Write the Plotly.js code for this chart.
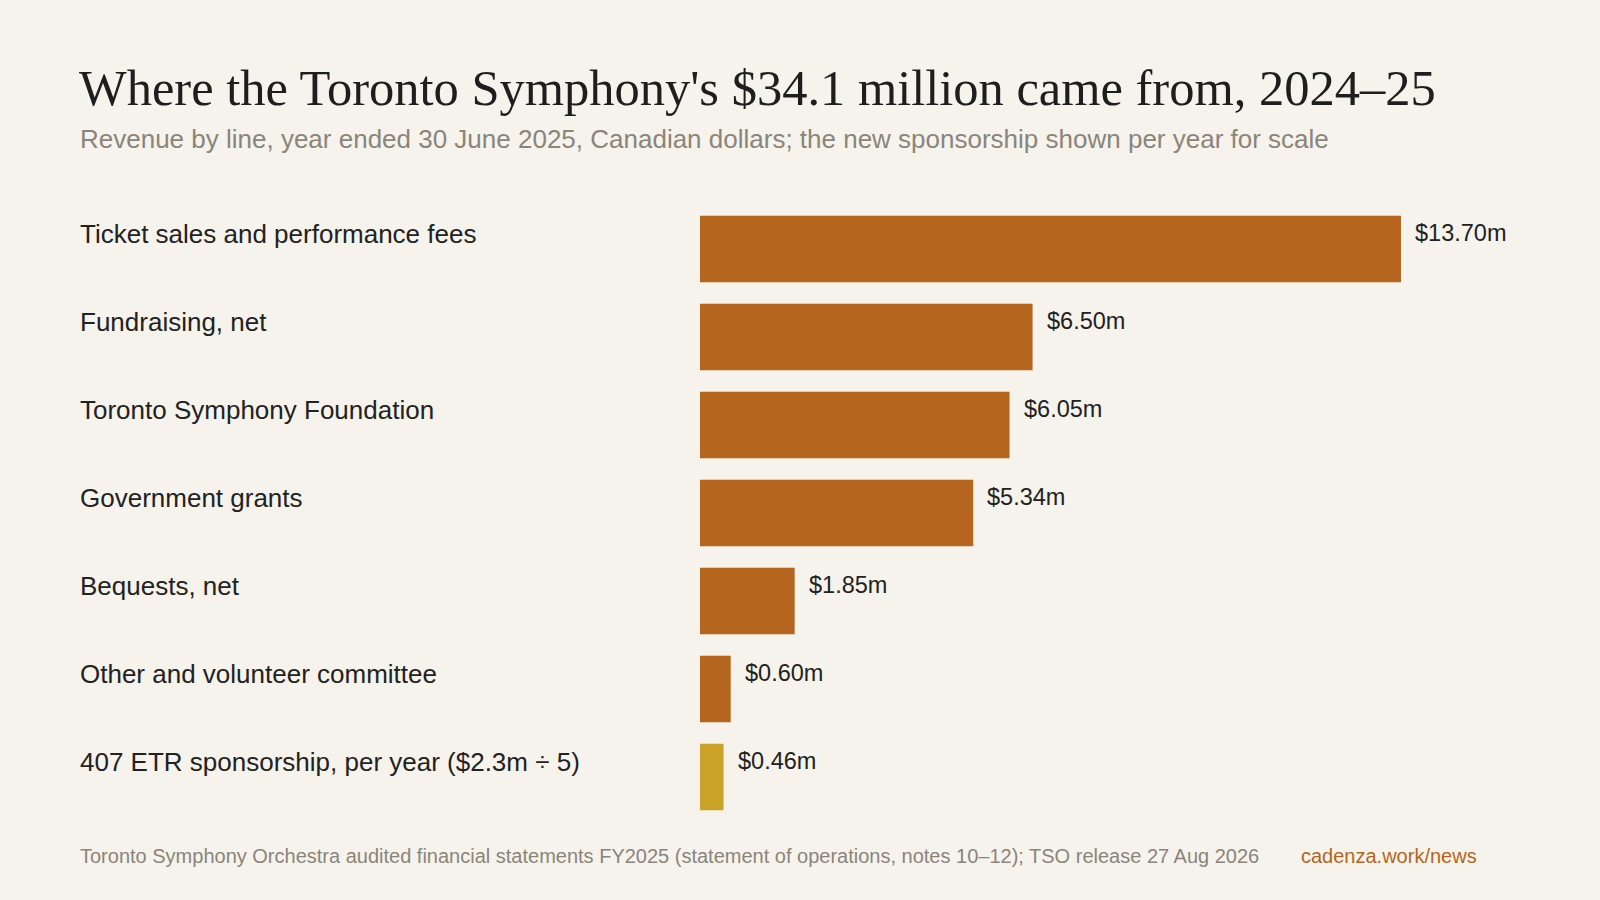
<!DOCTYPE html>
<html>
<head>
<meta charset="utf-8">
<script src="https://cdn.plot.ly/plotly-3.0.1.min.js"></script>
<style>
  html, body { margin: 0; padding: 0; background: #f6f3ec; }
  #tso-plot { width: 1600px; height: 900px; }
</style>
</head>
<body>
<div id="tso-plot"></div>
<script>
// Revenue lines, top to bottom, $ millions
var categories = [
    'Ticket sales and performance fees',
    'Fundraising, net',
    'Toronto Symphony Foundation',
    'Government grants',
    'Bequests, net',
    'Other and volunteer committee',
    '407 ETR sponsorship, per year ($2.3m \u00f7 5)'
];
var revenue = [13.70, 6.50, 6.05, 5.34, 1.85, 0.60, 0.46];
var valueLabels = ['$13.70m', '$6.50m', '$6.05m', '$5.34m', '$1.85m', '$0.60m', '$0.46m'];
var isSponsorship = [false, false, false, false, false, false, true];

var SANS = 'Arial, "Liberation Sans", sans-serif';
var SERIF = 'Georgia, "Liberation Serif", serif';
var RUST = '#b5651d';
var GOLD = '#c9a227';
var LEFT = -0.81;                    // left text edge, in paper units

function init_revenue_plot(){
    var barColors = isSponsorship.map(function(s){ return s ? GOLD : RUST; });

    var bars = {
        x: revenue,
        y: categories,
        type: 'bar',
        orientation: 'h',
        marker: { color: barColors },
        hoverinfo: 'none',
        showlegend: false
    };

    var annotations = [];
    for (var i = 0; i < categories.length; i++) {
        // row label, left-aligned in the margin, sitting near the bar top
        annotations.push({
            xref: 'paper', yref: 'y',
            x: LEFT, y: categories[i],
            xanchor: 'left', yanchor: 'middle',
            yshift: 15,
            text: categories[i],
            showarrow: false,
            font: { family: SANS, size: 26, color: '#222222' }
        });
        // value at the end of the bar
        annotations.push({
            xref: 'x', yref: 'y',
            x: revenue[i], y: categories[i],
            xanchor: 'left', yanchor: 'middle',
            xshift: 12, yshift: 16,
            text: valueLabels[i],
            showarrow: false,
            font: { family: SANS, size: 23.5, color: '#222222' }
        });
    }

    // subtitle and footer
    annotations.push({
        xref: 'paper', yref: 'paper',
        x: LEFT, y: 1.1076,
        xanchor: 'left', yanchor: 'middle',
        text: 'Revenue by line, year ended 30 June 2025, Canadian dollars; the new sponsorship shown per year for scale',
        showarrow: false,
        font: { family: SANS, size: 26, color: '#8a857a' }
    });
    annotations.push({
        xref: 'paper', yref: 'paper',
        x: LEFT, y: -0.057,
        xanchor: 'left', yanchor: 'middle',
        text: 'Toronto Symphony Orchestra audited financial statements FY2025 (statement of operations, notes 10\u201312); TSO release 27 Aug 2026',
        showarrow: false,
        font: { family: SANS, size: 20, color: '#8a857a' }
    });
    annotations.push({
        xref: 'paper', yref: 'paper',
        x: 1.0137, y: -0.057,
        xanchor: 'right', yanchor: 'middle',
        text: 'cadenza.work/news',
        showarrow: false,
        font: { family: SANS, size: 20, color: RUST }
    });

    var layout = {
        width: 1600,
        height: 900,
        paper_bgcolor: '#f6f3ec',
        plot_bgcolor: '#f6f3ec',
        margin: { l: 700, r: 132, t: 205, b: 79, pad: 0 },
        title: {
            text: 'Where the Toronto Symphony\'s $34.1 million came from, 2024\u201325',
            x: 79 / 1600, xanchor: 'left', xref: 'container',
            y: 1 - 87 / 900, yanchor: 'middle', yref: 'container',
            font: { family: SERIF, size: 50.5, color: '#1e1e1e' }
        },
        bargap: 0.242,
        xaxis: {
            range: [0, 15.01],
            visible: false,
            fixedrange: true
        },
        yaxis: {
            type: 'category',
            categoryorder: 'array',
            categoryarray: categories,
            autorange: 'reversed',
            showticklabels: false,
            showgrid: false,
            zeroline: false,
            showline: false,
            ticks: '',
            fixedrange: true
        },
        annotations: annotations,
        showlegend: false
    };

    var additional_param = {
        displayModeBar: false,          // static picture, no toolbar
        responsive: false
    };

    var plotDiv = document.getElementById('tso-plot');
    if(plotDiv)
    {
        Plotly.newPlot('tso-plot', [bars], layout, additional_param);
    }
};

init_revenue_plot();
</script>
</body>
</html>
